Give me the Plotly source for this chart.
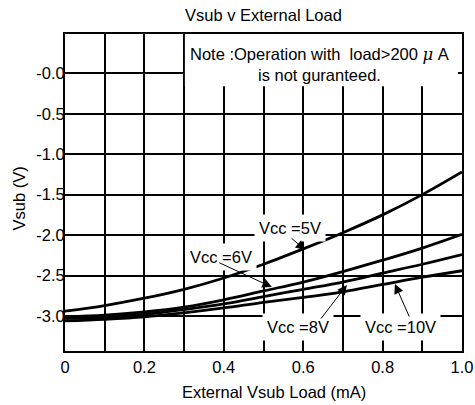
import plotly.graph_objects as go

load_ma = [0.0, 0.1, 0.2, 0.3, 0.4, 0.5, 0.6, 0.7, 0.8, 0.9, 1.0]
vcc5 = [-2.94, -2.87, -2.78, -2.67, -2.53, -2.36, -2.17, -1.97, -1.75, -1.50, -1.22]
vcc6 = [-3.01, -2.99, -2.95, -2.89, -2.80, -2.69, -2.58, -2.45, -2.31, -2.16, -1.99]
vcc8 = [-3.03, -3.02, -2.98, -2.92, -2.85, -2.76, -2.67, -2.58, -2.47, -2.36, -2.24]
vcc10 = [-3.06, -3.04, -3.01, -2.96, -2.90, -2.83, -2.77, -2.70, -2.61, -2.52, -2.44]

x_tickvals = [0, 0.2, 0.4, 0.6, 0.8, 1.0]
x_ticktext = ["0", "0.2", "0.4", "0.6", "0.8", "1.0"]
y_tickvals = [0, -0.5, -1.0, -1.5, -2.0, -2.5, -3.0]
y_ticktext = ["-0.0", "-0.5", "-1.0", "-1.5", "-2.0", "-2.5", "-3.0"]

FONT = "Liberation Sans, Arial, sans-serif"
FS = 16.5

fig = go.Figure()
for ys in (vcc5, vcc6, vcc8, vcc10):
    fig.add_trace(go.Scatter(x=load_ma, y=ys, mode="lines",
                             line=dict(color="black", width=2.8, shape="spline"),
                             showlegend=False, hoverinfo="skip"))

fig.update_layout(
    width=475, height=405,
    margin=dict(l=65, r=13, t=34, b=54),
    paper_bgcolor="white", plot_bgcolor="white",
    font=dict(family=FONT, size=FS, color="black"),
    showlegend=False,
)
fig.update_xaxes(
    range=[0, 1.0], tickvals=x_tickvals, ticktext=x_ticktext,
    showgrid=True, gridcolor="black", gridwidth=2,
    minor=dict(dtick=0.1, showgrid=True, gridcolor="black", gridwidth=2),
    showline=True, linecolor="black", linewidth=2, mirror=True,
    zeroline=False, ticks="", automargin=False,
    tickfont=dict(family=FONT, size=FS),
)
fig.update_yaxes(
    range=[-3.432, 0.485], tickvals=y_tickvals, ticktext=y_ticktext,
    showgrid=True, gridcolor="black", gridwidth=2,
    showline=True, linecolor="black", linewidth=2, mirror=True,
    zeroline=False, ticks="", automargin=False, ticklabelstandoff=-5,
    tickfont=dict(family=FONT, size=FS),
)

# white box behind note
fig.add_shape(type="rect", xref="x", yref="y", x0=0.302, x1=0.99, y0=-0.16, y1=0.485,
              fillcolor="white", line=dict(width=0), layer="between")

annos = [
    dict(text="Vsub v External Load", xref="paper", yref="paper", x=0.5, y=1.06,
         showarrow=False, xanchor="center", yanchor="middle", font=dict(size=FS)),
    dict(text="External Vsub Load (mA)", xref="paper", yref="paper", x=0.526, y=-0.129,
         showarrow=False, xanchor="center", yanchor="middle", font=dict(size=FS)),
    dict(text="Vsub (V)", xref="paper", yref="paper", x=-0.116, y=0.481, textangle=-90,
         showarrow=False, xanchor="center", yanchor="middle", font=dict(size=FS)),
    dict(text="Note :Operation with  load>200 <i><span style='font-family:DejaVu Serif'>μ</span></i> A<br>is not guranteed.",
         xref="x", yref="y", x=0.64, y=0.111, showarrow=False, align="center",
         xanchor="center", yanchor="middle", font=dict(size=FS)),
]
# label boxes
for txt, lx, ly in [("Vcc =5V", 0.567, -1.914), ("Vcc =6V", 0.393, -2.272),
                    ("Vcc =8V", 0.587, -3.136), ("Vcc =10V", 0.844, -3.136)]:
    annos.append(dict(text=txt, xref="x", yref="y", x=lx, y=ly, showarrow=False,
                      bgcolor="white", borderpad=4, xanchor="center", yanchor="middle",
                      font=dict(size=FS)))
# arrows
for hx, hy, ax, ay in [(0.605, -2.185, -15, -13), (0.521, -2.642, -54, -25),
                       (0.710, -2.617, -27, 35), (0.831, -2.605, 15, 34)]:
    annos.append(dict(text="", xref="x", yref="y", x=hx, y=hy, ax=ax, ay=ay,
                      showarrow=True, arrowhead=2, arrowsize=1.9, arrowwidth=1,
                      arrowcolor="black", standoff=0, startstandoff=0))
fig.update_layout(annotations=annos)

fig.write_html("out.html", config={"displayModeBar": False, "staticPlot": True},
               post_script="document.body.style.margin='0';document.body.style.padding='0';")
